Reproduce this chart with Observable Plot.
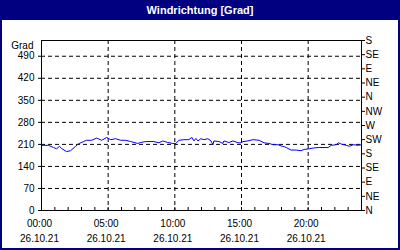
<!DOCTYPE html>
<html>
<head>
<meta charset="utf-8">
<script src="https://cdn.jsdelivr.net/npm/d3@7"></script>
<script src="https://cdn.jsdelivr.net/npm/@observablehq/plot@0.6"></script>
<style>
  html, body { margin: 0; padding: 0; background: #fff; }
  #wrap { width: 400px; height: 250px; overflow: hidden; }
  #title { height: 20px; background: #000080; color: #fff; font: bold 11px "Liberation Sans", Arial, sans-serif; text-align: center; line-height: 20px; }
  #chart { width: 400px; height: 230px; box-sizing: border-box; border: 2px solid #000080; border-top: none; }
  #chart svg { display: block; }
</style>
</head>
<body>
<div id="wrap">
  <div id="title">Windrichtung [Grad]</div>
  <div id="chart"></div>
</div>
<script>
// time in hours since 00:00 on 26.10.21
const hours = [0.0,0.53,0.9,1.13,1.35,1.5,1.88,2.18,2.56,2.78,3.16,3.38,3.76,4.14,4.51,4.89,5.19,5.56,5.94,6.32,6.69,7.22,7.44,7.82,8.42,8.8,9.1,9.47,9.85,10.08,10.3,10.68,11.05,11.28,11.43,11.58,11.73,11.95,12.18,12.48,12.71,12.86,12.93,13.31,13.61,13.68,14.06,14.36,14.74,14.96,15.11,15.49,15.86,16.32,16.69,17.07,17.37,17.74,17.97,18.2,18.35,18.72,19.1,19.47,19.7,20.08,20.45,20.83,21.5,21.73,22.11,22.26,22.48,22.86,23.08,23.38,23.76,24.0];
// wind direction in degrees
const direction = [207,207,200,196,204,197,187,190,204,212,219,223,223,230,223,232,225,228,223,223,219,213,216,219,219,215,221,216,213,213,223,225,225,232,221,229,221,228,225,228,221,209,221,219,213,221,216,221,215,215,219,221,225,223,215,213,209,209,205,203,200,192,192,190,194,196,199,200,200,207,209,215,211,207,204,209,207,209];

const leftTicks = [0,70,140,210,280,350,420,490];
const compassTicks = [0,45,90,135,180,225,270,315,360,405,450,495,540];
const compassNames = ["N","NE","E","SE","S","SW","W","NW","N","NE","E","SE","S"];
const majorHours = [0,5,10,15,20];
const minorHours = d3.range(0,25);
const majorLabels = ["00:00","05:00","10:00","15:00","20:00"];
const dateLabel = "26.10.21";

const data = hours.map((h,i) => ({h, v: direction[i]}));

const plot = Plot.plot({
  width: 396,
  height: 228,
  marginLeft: 39,
  marginRight: 37,
  marginTop: 20,
  marginBottom: 38,
  style: {fontFamily: "'Liberation Sans', Arial, sans-serif", fontSize: "10px", color: "#000", background: "#fff", overflow: "visible"},
  x: {domain: [0,24]},
  y: {domain: [0,540]},
  marks: [
    Plot.gridY(leftTicks.slice(1), {stroke: "#000", strokeOpacity: 1, strokeDasharray: "4,3"}),
    Plot.gridX(majorHours.slice(1), {stroke: "#000", strokeOpacity: 1, strokeDasharray: "4,3"}),
    Plot.axisY({anchor: "left", ticks: leftTicks, tickSize: 3, tickPadding: 4, label: null}),
    Plot.axisY({anchor: "right", ticks: compassTicks, tickSize: 3, tickPadding: 1, label: null, tickFormat: (d) => compassNames[compassTicks.indexOf(d)]}),
    Plot.axisX({anchor: "bottom", ticks: minorHours, tickSize: 3, dy: -3, tickFormat: () => "", label: null}),
    Plot.axisX({anchor: "bottom", ticks: majorHours, tickSize: 0, tickPadding: 6, lineHeight: 1.5, dx: -2, label: null,
      tickFormat: (d) => majorLabels[majorHours.indexOf(d)] + "\n" + dateLabel}),
    Plot.text(["Grad"], {frameAnchor: "top-left", dx: -8, dy: 5, textAnchor: "end", lineAnchor: "middle"}),
    Plot.line(data, {x: "h", y: "v", stroke: "#0000ff", strokeWidth: 1}),
    Plot.frame({stroke: "#000"})
  ]
});
document.getElementById("chart").appendChild(plot);
</script>
</body>
</html>
